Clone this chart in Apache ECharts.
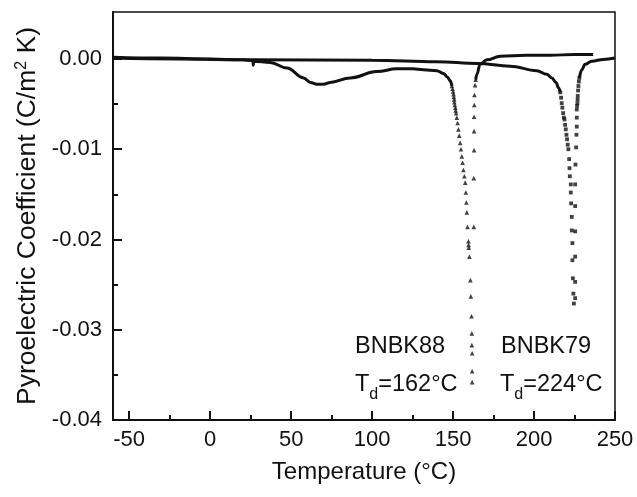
<!DOCTYPE html>
<html>
<head>
<meta charset="utf-8">
<script src="https://cdn.jsdelivr.net/npm/echarts@6/dist/echarts.min.js"></script>
<style>
html,body{margin:0;padding:0;background:#fff;}
#chart{width:637px;height:497px;}
</style>
</head>
<body>
<div id="chart"></div>
<script>
// ---- tick labels ----
const xTicks = [-50, 0, 50, 100, 150, 200, 250];
const xMinorTicks = [-25, 25, 75, 125, 175, 225];
const yTicks = [-0.04, -0.03, -0.02, -0.01, 0];
const yMinorTicks = [-0.035, -0.025, -0.015, -0.005];

// ---- BNBK88 (triangles) ----
const bnbk88Low = [
  [-60, 0.0002], [-30, 0.0001], [0, 0.0], [20, -0.0001], [26.4, -0.0002],
  [26.6, -0.0007], [26.8, -0.00025], [37.1, -0.0004], [47.4, -0.0010],
  [57.7, -0.0021], [62, -0.0026], [65.9, -0.0028], [70, -0.0028],
  [74.1, -0.0026], [86.5, -0.0021], [103, -0.0014], [115.3, -0.0011],
  [125, -0.0011], [131.7, -0.0012], [140, -0.0013], [144, -0.0016],
  [146.5, -0.0020], [148.2, -0.0024], [149.3, -0.0030]
];
const bnbk88Peak = [
  [149.3, -0.0030], [149.7, -0.0033], [150.0, -0.0036], [150.3, -0.0039],
  [150.5, -0.0042], [150.7, -0.0045], [150.8, -0.0048], [151.1, -0.0051],
  [151.4, -0.0054], [151.6, -0.0057], [151.9, -0.0060], [152.3, -0.0065],
  [152.8, -0.0071], [153.3, -0.0078], [153.8, -0.0085], [154.4, -0.0093],
  [154.9, -0.0100], [155.4, -0.0108], [155.9, -0.0115], [156.4, -0.0123],
  [157.0, -0.0130], [157.5, -0.0137], [157.9, -0.0148], [158.2, -0.0159],
  [158.5, -0.0170], [158.9, -0.0186], [159.5, -0.0202], [159.6, -0.0206],
  [159.7, -0.0209], [160.1, -0.0219], [160.7, -0.0245], [161.0, -0.0263],
  [161.4, -0.0285], [161.6, -0.0304], [161.6, -0.0317], [161.8, -0.0326],
  [161.8, -0.0346], [161.8, -0.0358],
  [162.8, -0.0186], [162.8, -0.0132], [163.0, -0.0101], [163.0, -0.0080],
  [163.0, -0.0064], [163.1, -0.0051], [163.2, -0.0040], [163.6, -0.0029],
  [164.0, -0.0023]
];
const bnbk88High = [
  [164.0, -0.0023], [164.7, -0.0017], [166.7, -0.0006], [170.9, -0.0001],
  [179.1, 0.0003], [195, 0.0004], [210, 0.0004], [225, 0.0005], [236.5, 0.0005]
];

// ---- BNBK79 (squares) ----
const bnbk79Low = [
  [-60, 0.0001], [-20, 0.0], [26.6, -0.0001], [100, -0.00015], [140, -0.0003],
  [165, -0.0005], [185.2, -0.0008], [201.7, -0.0013], [207.9, -0.0017],
  [211, -0.0021], [213.6, -0.0026], [215.1, -0.0032], [216.2, -0.0037]
];
const bnbk79Peak = [
  [216.2, -0.0037], [216.7, -0.0043], [217.1, -0.0049], [217.5, -0.0054],
  [218.0, -0.0060], [218.4, -0.0065], [218.8, -0.0067], [219.2, -0.0073],
  [219.6, -0.0078], [220.0, -0.0084], [220.4, -0.0089], [220.8, -0.0095],
  [221.2, -0.0100], [221.7, -0.0111], [221.9, -0.0121], [222.1, -0.0130],
  [222.7, -0.0139], [222.7, -0.0148], [222.9, -0.0160], [223.3, -0.0175],
  [223.3, -0.0190], [223.7, -0.0204], [223.7, -0.0223], [224.0, -0.0243],
  [224.3, -0.0260], [224.6, -0.0271],
  [225.4, -0.0265], [225.4, -0.0247], [225.4, -0.0219], [225.4, -0.0191],
  [225.4, -0.0163], [225.4, -0.0139], [225.6, -0.0117], [226.0, -0.0098],
  [226.2, -0.0084], [226.4, -0.0075], [226.4, -0.0065], [226.4, -0.0056],
  [226.6, -0.0052], [226.8, -0.0049], [226.9, -0.0045], [227.0, -0.0041],
  [227.2, -0.0035], [227.4, -0.0030], [227.7, -0.0025], [228.0, -0.0021]
];
const bnbk79High = [
  [228.0, -0.0021], [229.5, -0.0012], [231.5, -0.0006], [235.7, -0.00025],
  [242.8, -0.00005], [250, 0.0001]
];

const FONT = 'Liberation Sans';
const INK = '#111111';
const GRID = { left: 113, right: 22, top: 12, bottom: 77 };
const X_MIN = -60, X_MAX = 250, Y_MIN = -0.04, Y_MAX = 0.0052;

const chart = echarts.init(document.getElementById('chart'), null, { renderer: 'canvas' });

const lineSeries = (data) => ({
  type: 'line', data, xAxisIndex: 0, yAxisIndex: 0, showSymbol: false,
  smooth: 0.4, smoothMonotone: 'x',
  lineStyle: { color: INK, width: 3 }, z: 3, silent: true
});
const scatterSeries = (data, symbol, size) => ({
  type: 'scatter', data, xAxisIndex: 0, yAxisIndex: 0, symbol, symbolSize: size,
  itemStyle: { color: INK }, z: 4, silent: true
});

const subRich = {
  a: { fontFamily: FONT, fontSize: 23.5, color: INK, verticalAlign: 'bottom' },
  b: { fontFamily: FONT, fontSize: 16, color: INK, verticalAlign: 'bottom', padding: [0, 0, -6, 0] }
};

chart.setOption({
  animation: false,
  backgroundColor: '#fff',
  grid: [
    Object.assign({ show: true, borderColor: INK, borderWidth: 1.5, backgroundColor: 'transparent' }, GRID),
    Object.assign({ show: false }, GRID)
  ],
  xAxis: [
    {
      gridIndex: 0, type: 'value', min: X_MIN, max: X_MAX, position: 'bottom',
      name: 'Temperature (°C)', nameLocation: 'middle', nameGap: 40,
      nameTextStyle: { fontFamily: FONT, fontSize: 24, color: INK },
      axisLine: { show: true, onZero: false, lineStyle: { color: INK, width: 2 } },
      axisTick: { show: true, inside: true, length: 9, lineStyle: { color: INK, width: 2 }, customValues: xTicks },
      axisLabel: { show: true, margin: 9, fontFamily: FONT, fontSize: 22, color: INK, customValues: xTicks,
        formatter: v => String(v) },
      splitLine: { show: false }
    },
    {
      gridIndex: 1, type: 'value', min: X_MIN, max: X_MAX, position: 'bottom',
      axisLine: { show: false, onZero: false },
      axisTick: { show: true, inside: true, length: 5, lineStyle: { color: INK, width: 2 }, customValues: xMinorTicks },
      axisLabel: { show: false },
      splitLine: { show: false }
    }
  ],
  yAxis: [
    {
      gridIndex: 0, type: 'value', min: Y_MIN, max: Y_MAX, position: 'left',
      name: 'Pyroelectric Coefficient (C/m{s|2} K)', nameLocation: 'middle', nameGap: 70, nameRotate: 90,
      nameTextStyle: { fontFamily: FONT, fontSize: 26.5, color: INK,
        rich: { s: { fontFamily: FONT, fontSize: 16, color: INK, verticalAlign: 'top', padding: [0, 0, 8, 0] } } },
      axisLine: { show: true, onZero: false, lineStyle: { color: INK, width: 2 } },
      axisTick: { show: true, inside: true, length: 9, lineStyle: { color: INK, width: 2 }, customValues: yTicks },
      axisLabel: { show: true, margin: 11, fontFamily: FONT, fontSize: 22, color: INK, customValues: yTicks,
        formatter: v => Number(v).toFixed(2) },
      splitLine: { show: false }
    },
    {
      gridIndex: 1, type: 'value', min: Y_MIN, max: Y_MAX, position: 'left',
      axisLine: { show: false, onZero: false },
      axisTick: { show: true, inside: true, length: 5, lineStyle: { color: INK, width: 2 }, customValues: yMinorTicks },
      axisLabel: { show: false },
      splitLine: { show: false }
    }
  ],
  series: [
    lineSeries(bnbk79Low),
    scatterSeries(bnbk79Peak, 'rect', 3.8),
    lineSeries(bnbk79High),
    lineSeries(bnbk88Low),
    scatterSeries(bnbk88Peak, 'triangle', 4.6),
    lineSeries(bnbk88High),
    { type: 'scatter', xAxisIndex: 1, yAxisIndex: 1, data: [] }
  ],
  graphic: [
    { type: 'text', left: 355, top: 335, style: { text: 'BNBK88', font: '23.5px "Liberation Sans"', fill: INK } },
    { type: 'text', left: 355, top: 373, style: { text: '{a|T}{b|d}{a|=162°C}', fill: INK, rich: subRich } },
    { type: 'text', left: 501, top: 335, style: { text: 'BNBK79', font: '23.5px "Liberation Sans"', fill: INK } },
    { type: 'text', left: 500, top: 373, style: { text: '{a|T}{b|d}{a|=224°C}', fill: INK, rich: subRich } }
  ]
});
</script>
</body>
</html>
